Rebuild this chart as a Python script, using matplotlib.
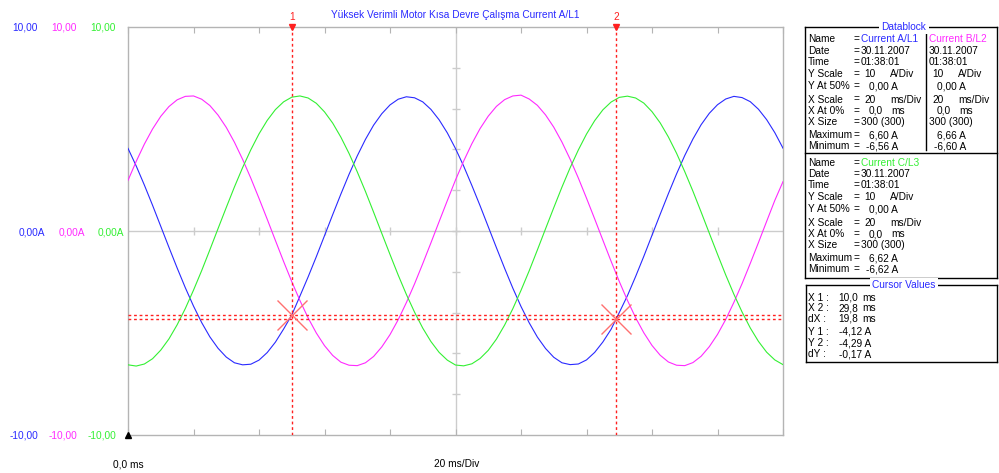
import matplotlib
matplotlib.use("Agg")
import matplotlib.pyplot as plt
from matplotlib.lines import Line2D

# ---------------- data (0.5 ms steps) ----------------
time_ms = [i * 0.5 for i in range(81)]
current_a_l1 = [4.05, 3.19, 2.25, 1.26, 0.23, -0.80, -1.81, -2.78, -3.68, -4.49,
                -5.19, -5.75, -6.18, -6.46, -6.56, -6.53, -6.33, -5.96, -5.45, -4.81,
                -4.12, -3.19, -2.25, -1.26, -0.23, 0.80, 1.81, 2.78, 3.68, 4.49,
                5.19, 5.75, 6.18, 6.46, 6.58, 6.53, 6.33, 5.96, 5.45, 4.81,
                4.04, 3.18, 2.23, 1.24, 0.21, -0.82, -1.83, -2.80, -3.70, -4.50,
                -5.20, -5.76, -6.19, -6.46, -6.55, -6.52, -6.32, -5.95, -5.44, -4.82,
                -4.00, -3.17, -2.23, -1.24, -0.21, 0.82, 1.83, 2.80, 3.70, 4.51,
                5.21, 5.77, 6.19, 6.47, 6.60, 6.54, 6.34, 5.97, 5.46, 4.82, 4.06]
current_b_l2 = [2.48, 3.41, 4.26, 5.00, 5.62, 6.10, 6.43, 6.60, 6.62, 6.46,
                6.15, 5.68, 5.08, 4.35, 3.51, 2.59, 1.60, 0.58, -0.46, -1.49,
                -2.48, -3.41, -4.26, -5.00, -5.62, -6.10, -6.43, -6.58, -6.60, -6.46,
                -6.15, -5.68, -5.08, -4.35, -3.51, -2.59, -1.60, -0.58, 0.46, 1.49,
                2.50, 3.43, 4.28, 5.02, 5.63, 6.11, 6.44, 6.62, 6.66, 6.47,
                6.16, 5.69, 5.09, 4.36, 3.52, 2.60, 1.61, 0.59, -0.45, -1.48,
                -2.47, -3.40, -4.25, -4.99, -5.61, -6.09, -6.42, -6.58, -6.60, -6.45,
                -6.14, -5.67, -5.07, -4.34, -3.50, -2.58, -1.59, -0.57, 0.47, 1.50, 2.42]
current_c_l3 = [-6.56, -6.62, -6.52, -6.26, -5.84, -5.29, -4.60, -3.80, -2.90, -1.94,
                -0.92, 0.12, 1.15, 2.16, 3.11, 3.98, 4.76, 5.42, 5.95, 6.33,
                6.56, 6.62, 6.52, 6.26, 5.84, 5.29, 4.60, 3.80, 2.90, 1.94,
                0.92, -0.12, -1.15, -2.16, -3.11, -3.98, -4.76, -5.42, -5.95, -6.33,
                -6.57, -6.61, -6.51, -6.25, -5.85, -5.30, -4.61, -3.81, -2.91, -1.95,
                -0.93, 0.11, 1.14, 2.15, 3.10, 3.97, 4.75, 5.41, 5.94, 6.32,
                6.55, 6.61, 6.52, 6.27, 5.85, 5.30, 4.61, 3.81, 2.91, 1.95,
                0.93, -0.11, -1.14, -2.15, -3.10, -3.97, -4.75, -5.41, -5.94, -6.32, -6.55]

series_names = ["Current A/L1", "Current B/L2", "Current C/L3"]
series_colors = ["#2a2aff", "#ff2aff", "#33f033"]
series_max = ["6,60 A", "6,66 A", "6,62 A"]
series_min = ["-6,56 A", "-6,60 A", "-6,62 A"]
rec_date = "30.11.2007"
rec_time = "01:38:01"
y_scale = "10"
y_at50 = "0,00 A"
x_scale = "20"
x_at0 = "0,0"
x_size = "300 (300)"

cursor_x = [10.0, 29.8]
cursor_y = [-4.12, -4.29]
cursor_labels = ["1", "2"]
cursor_rows = [("X 1 :", "10,0", "ms"), ("X 2 :", "29,8", "ms"), ("dX :", "19,8", "ms"),
               ("Y 1 :", "-4,12 A", ""), ("Y 2 :", "-4,29 A", ""), ("dY :", "-0,17 A", "")]

title = "Yüksek Verimli Motor Kısa Devre Çalışma Current A/L1"
y_top_label = "10,00"
y_mid_label = "0,00A"
y_bot_label = "-10,00"
x_start_label = "0,0 ms"
x_div_label = "20 ms/Div"

# ---------------- figure ----------------
W, H = 999, 473
plt.rcParams['font.family'] = ['Liberation Sans', 'DejaVu Sans']
FS = 7.3
fig = plt.figure(figsize=(W / 100, H / 100), dpi=100)


def px(x, y):
    return x / W, 1 - y / H


L, R, T, B = 128, 783, 27, 435
ax = fig.add_axes([L / W, 1 - B / H, (R - L) / W, (B - T) / H])
ax.set_xlim(0, 40)
ax.set_ylim(-10, 10)
for s in ax.spines.values():
    s.set_color("#b4b4b4")
    s.set_linewidth(1)
ax.set_xticks(range(0, 41, 4))
ax.set_yticks([])
ax.tick_params(axis='x', direction='in', length=4, color="#b4b4b4",
               top=True, bottom=True, labelbottom=False, labeltop=False)

# center cross with small ticks
ax.axvline(20, color="#cccccc", lw=1, zorder=1)
ax.axhline(0, color="#cccccc", lw=1, zorder=1)
ax.plot([20] * 9, range(-8, 9, 2), ls='none', marker='_', ms=6, mew=1,
        color="#cccccc", zorder=1)
ax.plot(range(4, 37, 4), [0] * 9, ls='none', marker='|', ms=6, mew=1,
        color="#cccccc", zorder=1)

# signals
for vals, col in zip([current_a_l1, current_b_l2, current_c_l3], series_colors):
    ax.plot(time_ms, vals, color=col, lw=0.8, zorder=3)

# cursors
for cx, cy, lab in zip(cursor_x, cursor_y, cursor_labels):
    ax.axvline(cx, color="#ff2020", lw=1, ls=(0, (2, 2)), zorder=4)
    ax.axhline(cy, color="#ff2020", lw=1, ls=(0, (2, 2)), zorder=4)
    ax.plot(cx, cy, marker='x', ms=22, mew=1, color="#ff7070", zorder=5)
    ax.annotate(lab, xy=(cx, 1), xycoords=('data', 'axes fraction'),
                xytext=(0, 7), textcoords='offset points', ha='center',
                va='center', color="#ff2020", fontsize=FS)
    ax.plot(cx, 10, marker='v', ms=4, color="#ff2020", clip_on=False, zorder=6)

ax.plot(0, -10, marker='^', ms=5, color='black', clip_on=False, zorder=6)

# title
fig.text(*px(455, 15), title, ha='center', va='center', color="#2a2aff", fontsize=FS)

# left labels
for xr, col in zip([38, 77, 116], series_colors):
    fig.text(*px(xr, 27), y_top_label, ha='right', va='center', color=col, fontsize=FS)
    fig.text(*px(xr, 435), y_bot_label, ha='right', va='center', color=col, fontsize=FS)
for xr, col in zip([45, 85, 124], series_colors):
    fig.text(*px(xr, 232), y_mid_label, ha='right', va='center', color=col, fontsize=FS)

fig.text(*px(128, 464), x_start_label, ha='center', va='center', fontsize=FS)
fig.text(*px(457, 464), x_div_label, ha='center', va='center', fontsize=FS)


# ---------------- right panel ----------------
def hline(x0, x1, y, color='black', lw=1):
    fig.add_artist(Line2D([x0 / W, x1 / W], [1 - y / H, 1 - y / H], color=color, lw=lw))


def vline(x, y0, y1, color='black', lw=1):
    fig.add_artist(Line2D([x / W, x / W], [1 - y0 / H, 1 - y1 / H], color=color, lw=lw))


def txt(x, y, s, color='black', ha='left'):
    fig.text(*px(x, y), s, ha=ha, va='center', color=color, fontsize=FS)


# datablock frame
hline(805, 997, 27)
hline(805, 997, 278)
vline(805, 27, 278)
vline(997, 27, 278)
hline(805, 997, 153)
vline(925.5, 34, 150)
fig.text(*px(904, 27), "Datablock", ha='center', va='center', color="#2a2aff",
         fontsize=FS, bbox=dict(facecolor='white', edgecolor='none', pad=1.5))

row_labels = ["Name", "Date", "Time", "Y Scale", "Y At 50%", "X Scale", "X At 0%",
              "X Size", "Maximum", "Minimum"]
row_dy = [0, 11.4, 22.4, 34.7, 46.7, 60, 71.4, 82.4, 95.7, 106.7]


def block(y0, idx, with_labels, xb, unit_dx):
    ys = [y0 + d for d in row_dy]
    if with_labels:
        for lab, y in zip(row_labels, ys):
            txt(808, y, lab)
        for y in ys:
            txt(853, y, "=")
    txt(xb, ys[0], series_names[idx], color=series_colors[idx])
    txt(xb, ys[1], rec_date)
    txt(xb, ys[2], rec_time)
    txt(xb + 3, ys[3], y_scale)
    txt(xb + unit_dx, ys[3], "A/Div")
    txt(xb + 8, ys[4], y_at50)
    txt(xb + 3, ys[5], x_scale)
    txt(xb + unit_dx, ys[5], "ms/Div")
    txt(xb + 8, ys[6], x_at0)
    txt(xb + unit_dx + 1, ys[6], "ms")
    txt(xb, ys[7], x_size)
    txt(xb + 8, ys[8], series_max[idx])
    txt(xb + 5, ys[9], series_min[idx])


block(39.5, 0, True, 861, 29)
block(39.5, 1, False, 929, 29)
block(162.7, 2, True, 861, 29)

# cursor values frame
hline(806, 997, 285)
hline(806, 997, 362)
vline(806, 285, 362)
vline(997, 285, 362)
fig.text(*px(904, 285), "Cursor Values", ha='center', va='center', color="#2a2aff",
         fontsize=FS, bbox=dict(facecolor='white', edgecolor='none', pad=1.5))
cur_ys = [297.5, 308, 318.5, 332, 343, 354]
for (lab, val, unit), y in zip(cursor_rows, cur_ys):
    txt(808, y, lab)
    txt(838 if unit else 839, y, val)
    if unit:
        txt(862, y, unit)

fig.savefig("out.png", dpi=100, facecolor='white')
